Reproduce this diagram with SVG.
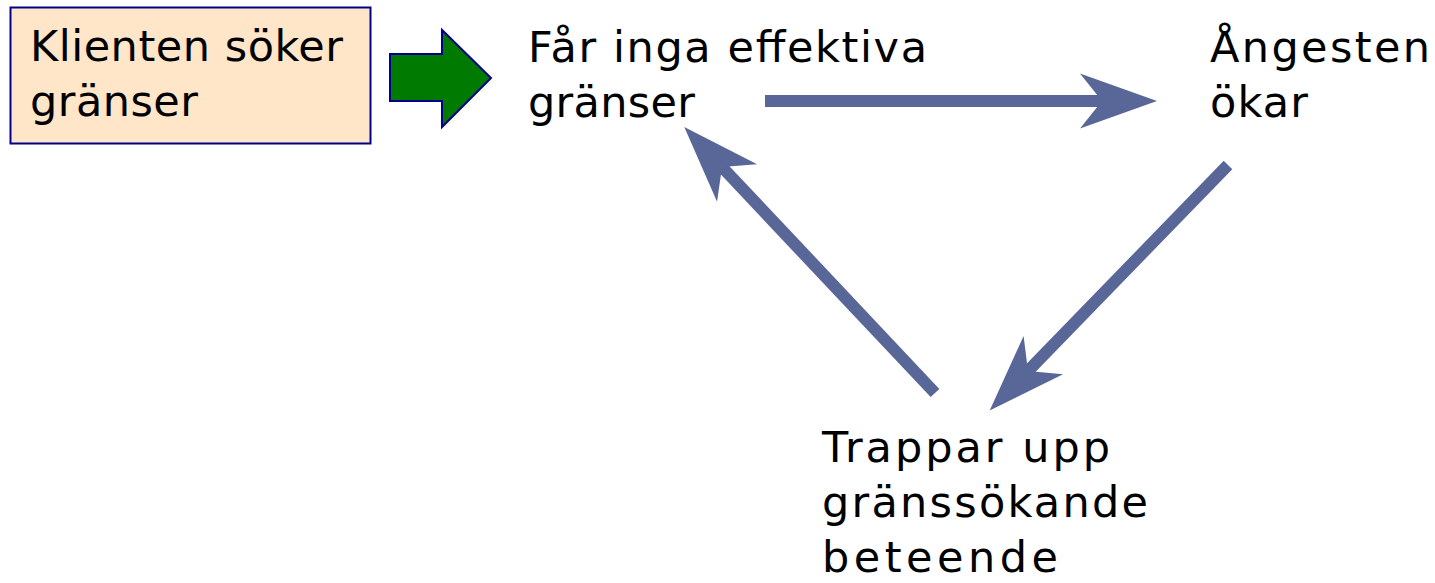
<svg xmlns="http://www.w3.org/2000/svg" width="1435" height="583" viewBox="0 0 1435 583">
<style>
.t{font-family:"DejaVu Sans","Liberation Sans",sans-serif;font-size:43px;fill:#000}
.c{stroke:#586797;stroke-width:12;fill:none;stroke-linecap:butt}
</style>
<defs>
<marker id="ah" markerUnits="userSpaceOnUse" markerWidth="80" markerHeight="60" refX="22" refY="27.5" orient="auto" overflow="visible">
<path d="M0,0 L77,27.5 L0,55 L22,27.5 Z" fill="#586797"/>
</marker>
</defs>
<rect width="1435" height="583" fill="#fff"/>
<g id="node-klienten">
<rect x="10.5" y="7.5" width="360" height="136" fill="#FFE6C9" stroke="#00008B" stroke-width="2"/>
<text class="t" x="30" y="61" textLength="313" lengthAdjust="spacing">Klienten söker</text>
<text class="t" x="30" y="116" textLength="168" lengthAdjust="spacing">gränser</text>
</g>
<g id="node-green-arrow">
<path d="M390,54 L442,54 L442,30 L491,78 L442,127 L442,101 L390,101 Z" fill="#007A00" stroke="#00008B" stroke-width="2"/>
</g>
<g id="node-far">
<text class="t" x="528" y="62" textLength="399" lengthAdjust="spacing">Får inga effektiva</text>
<text class="t" x="528" y="117" textLength="167" lengthAdjust="spacing">gränser</text>
</g>
<g id="node-angesten">
<text class="t" x="1210" y="62" textLength="220" lengthAdjust="spacing">Ångesten</text>
<text class="t" x="1210" y="117" textLength="98" lengthAdjust="spacing">ökar</text>
</g>
<g id="node-trappar">
<text class="t" x="822" y="462" textLength="288" lengthAdjust="spacing">Trappar upp</text>
<text class="t" x="822" y="517" textLength="326" lengthAdjust="spacing">gränssökande</text>
<text class="t" x="822" y="572" textLength="236" lengthAdjust="spacing">beteende</text>
</g>
<g id="connectors">
<line class="c" x1="765" y1="101" x2="1102" y2="101" marker-end="url(#ah)"/>
<line class="c" x1="1228" y1="165" x2="1028" y2="371" marker-end="url(#ah)"/>
<line class="c" x1="935" y1="393" x2="722" y2="167" marker-end="url(#ah)"/>
</g>
</svg>
